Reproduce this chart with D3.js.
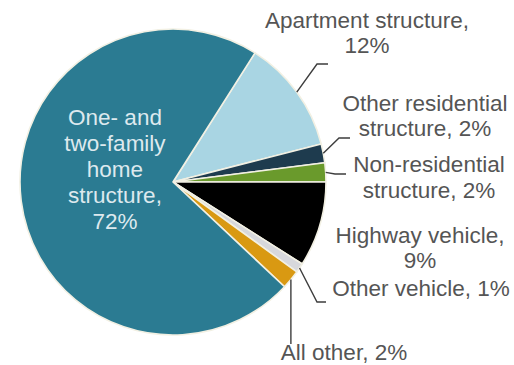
<!DOCTYPE html>
<html>
<head>
<meta charset="utf-8">
<script src="https://cdn.jsdelivr.net/npm/d3@7"></script>
<style>
  html, body { margin: 0; padding: 0; background: #ffffff; }
  svg { display: block; }
  text { font-family: "Liberation Sans", Arial, sans-serif; }
</style>
</head>
<body>
<svg id="chart" width="514" height="365"></svg>
<script>
// Share of fires by property type (percent), clockwise from the apartment slice
const categories = [
  "Apartment structure",
  "Other residential structure",
  "Non-residential structure",
  "Highway vehicle",
  "Other vehicle",
  "All other",
  "One- and two-family home structure"
];
const values = [12, 2, 2, 9, 1, 2, 72];
const colors = ["#a9d5e3", "#1e3b4e", "#6a9a2c", "#000000", "#d7d8dc", "#d99912", "#2b7b92"];

// Label lines for each slice (text as shown on the chart)
const labelLines = [
  ["Apartment structure,", "12%"],
  ["Other residential", "structure, 2%"],
  ["Non-residential", "structure, 2%"],
  ["Highway vehicle,", "9%"],
  ["Other vehicle, 1%"],
  ["All other, 2%"],
  ["One- and", "two-family", "home", "structure,", "72%"]
];

const svg = d3.select("#chart");
const cx = 173, cy = 182, radius = 153;
const deg = Math.PI / 180;

const pie = d3.pie().value(d => d).sort(null)
  .startAngle(32.4 * deg).endAngle(32.4 * deg + 2 * Math.PI);
const arcs = pie(values);
const arc = d3.arc().innerRadius(0).outerRadius(radius);
const edgeArc = d3.arc().innerRadius(radius).outerRadius(radius);

const g = svg.append("g").attr("transform", `translate(${cx},${cy})`);

g.selectAll("path.slice")
  .data(arcs)
  .join("path")
  .attr("class", "slice")
  .attr("d", arc)
  .attr("fill", (d, i) => colors[i])
  .attr("stroke", "#f2f0e3")
  .attr("stroke-width", 1.6)
  .attr("stroke-linejoin", "round");

// Leader line bends and ends (absolute page coordinates) for outside labels
const leaders = [
  { slice: 0, pts: [[317, 64], [328, 64]] },
  { slice: 1, pts: [[339, 138], [350, 138]] },
  { slice: 2, pts: [[335, 174], [346, 174]] },
  { slice: 4, pts: [[317, 302], [326, 302]] },
  { slice: 5, pts: null, vertical: 344 }
];

const line = d3.line();
leaders.forEach(l => {
  const c = edgeArc.centroid(arcs[l.slice]);
  const start = [cx + c[0], cy + c[1]];
  let pts;
  if (l.vertical) {
    pts = [start, [start[0], l.vertical]];
  } else {
    pts = [start, ...l.pts];
  }
  svg.append("path")
    .attr("d", line(pts))
    .attr("fill", "none")
    .attr("stroke", "#3d3d3d")
    .attr("stroke-width", 1.4);
});

// Label anchors: centre x and first baseline
const labelPos = [
  { x: 367, y: 28, lh: 25, fill: "#555555" },
  { x: 425, y: 111, lh: 25, fill: "#555555" },
  { x: 429, y: 172, lh: 26, fill: "#555555" },
  { x: 420, y: 243, lh: 25, fill: "#555555" },
  { x: 421, y: 296, lh: 25, fill: "#555555" },
  { x: 344, y: 360, lh: 25, fill: "#555555" },
  { x: 115, y: 125, lh: 26, fill: "#dde9ee" }
];

labelLines.forEach((lines, i) => {
  const p = labelPos[i];
  const t = svg.append("text")
    .attr("text-anchor", "middle")
    .attr("font-size", 22.5)
    .attr("fill", p.fill);
  lines.forEach((s, k) => {
    t.append("tspan")
      .attr("x", p.x)
      .attr("y", p.y + k * p.lh)
      .text(s);
  });
});
</script>
</body>
</html>
